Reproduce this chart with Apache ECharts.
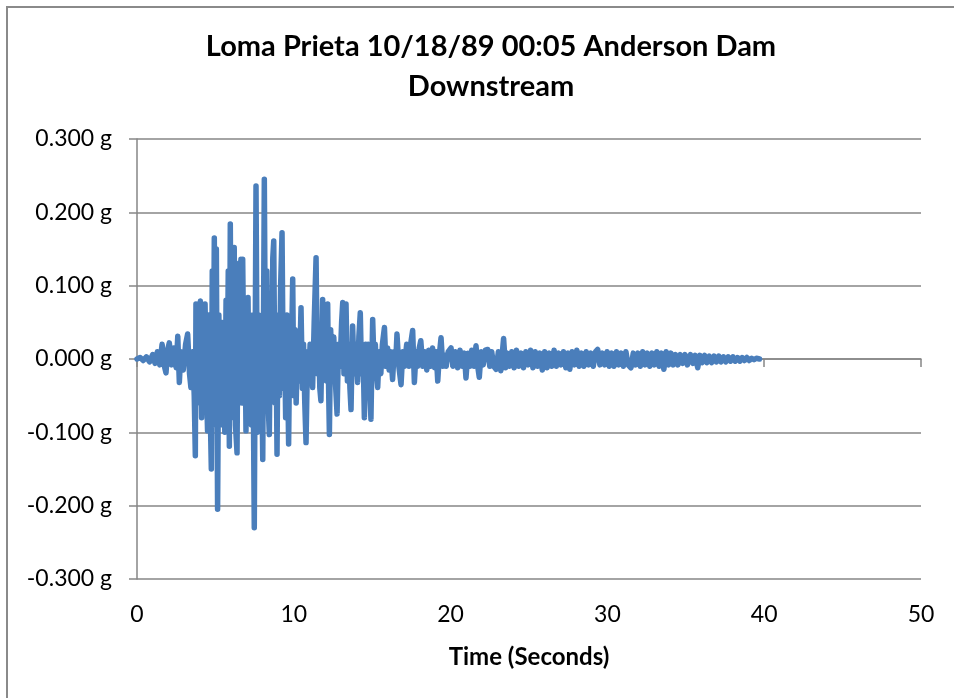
<!DOCTYPE html>
<html>
<head>
<meta charset="utf-8">
<script src="https://cdn.jsdelivr.net/npm/echarts@6/dist/echarts.min.js"></script>
<style>
html,body{margin:0;padding:0;background:#fff;}
#c{width:954px;height:698px;}
</style>
</head>
<body>
<div id="c"></div>
<script>
// Time (s) of each read-off turning point and the acceleration (g) there
const times = [
0,0.2,0.4,0.6,0.8,1.0,1.15,1.3,1.45,1.6,1.75,1.85,1.95,2.06,2.2,2.35,2.5,2.6,2.7,2.8,2.95,3.1,3.23,3.35,3.44,3.55,3.65,3.72,3.76,3.85,3.95,4.04,4.12,4.2,4.28,4.34,4.42,4.5,4.58,4.66,4.74,4.8,4.86,4.93,5.0,5.06,5.14,5.22,5.3,5.38,5.45,5.52,5.6,5.68,5.75,5.82,5.89,5.95,6.02,6.1,6.2,6.28,6.38,6.45,6.53,6.58,6.63,6.7,6.74,6.82,6.88,6.95,7.02,7.08,7.15,7.22,7.3,7.38,7.48,7.59,7.68,7.76,7.85,7.92,8.02,8.12,8.2,8.28,8.36,8.44,8.52,8.6,8.66,8.72,8.8,8.86,8.93,9.0,9.08,9.16,9.25,9.33,9.4,9.48,9.56,9.67,9.75,9.82,9.93,10.0,10.08,10.15,10.25,10.35,10.46,10.55,10.62,10.7,10.78,10.88,10.96,11.04,11.12,11.2,11.3,11.42,11.5,11.58,11.66,11.73,11.84,11.92,12.0,12.08,12.16,12.22,12.27,12.35,12.45,12.55,12.65,12.76,12.85,12.95,13.05,13.12,13.2,13.27,13.33,13.42,13.5,13.58,13.65,13.75,13.85,13.95,14.07,14.15,14.24,14.32,14.42,14.5,14.58,14.66,14.75,14.84,14.92,15.03,15.12,15.2,15.28,15.35,15.45,15.55,15.65,15.78,15.88,15.98,16.08,16.18,16.3,16.4,16.5,16.58,16.7,16.84,16.95,17.05,17.2,17.35,17.45,17.58,17.69,17.8,17.9,18.0,18.1,18.22,18.35,18.48,18.6,18.72,18.85,18.98,19.08,19.18,19.28,19.39,19.5,19.62,19.72,19.85,20.03,20.15,20.3,20.45,20.6,20.75,20.88,20.98,21.1,21.22,21.35,21.5,21.62,21.73,21.83,21.95,22.08,22.22,22.37,22.5,22.62,22.75,22.9,23.05,23.2,23.38,23.5,23.62,23.75,23.9,24.05,24.2,24.35,24.5,24.65,24.8,24.95,25.1,25.25,25.4,25.55,25.7,25.85,26.0,26.15,26.3,26.45,26.6,26.75,26.9,27.05,27.2,27.35,27.5,27.6,27.75,27.9,28.05,28.2,28.35,28.5,28.65,28.8,28.95,29.1,29.25,29.38,29.52,29.68,29.82,29.98,30.12,30.28,30.42,30.58,30.72,30.88,31.02,31.18,31.32,31.5,31.65,31.8,31.95,32.1,32.25,32.4,32.55,32.7,32.85,33.0,33.15,33.3,33.45,33.6,33.75,33.9,34.05,34.2,34.35,34.5,34.65,34.8,34.95,35.1,35.3,35.45,35.6,35.76,35.9,36.05,36.2,36.35,36.5,36.65,36.8,36.95,37.1,37.25,37.4,37.55,37.7,37.85,38.0,38.15,38.3,38.45,38.6,38.75,38.9,39.05,39.2,39.35,39.5,39.7
];
const accel = [
0,0.002,-0.002,0.003,-0.004,0.006,-0.006,0.01,-0.008,0.02,-0.01,-0.019,0.012,0.022,-0.008,0.015,-0.012,0.031,-0.032,0.01,-0.015,0.02,0.034,-0.02,-0.039,0.01,-0.05,-0.132,0.075,-0.06,0.05,0.079,-0.08,0.04,-0.05,0.075,-0.03,-0.098,0.06,-0.06,-0.15,0.12,-0.09,0.165,-0.08,0.15,-0.205,0.06,-0.09,0.05,-0.06,0.03,-0.1,0.08,-0.05,0.12,-0.119,0.184,-0.08,0.1,0.152,-0.09,-0.128,0.1,0.131,-0.04,0.136,-0.06,0.136,-0.02,0.07,-0.098,0.04,0.084,-0.06,0.05,-0.09,0.06,-0.23,0.236,-0.1,0.06,-0.09,0.05,-0.137,0.245,-0.05,0.12,-0.06,-0.103,0.07,-0.04,0.138,0.161,-0.06,0.05,-0.13,0.06,-0.05,0.1,0.172,-0.04,0.05,-0.08,0.06,-0.116,0.04,-0.03,0.109,-0.05,0.04,-0.06,0.03,-0.03,0.07,-0.04,0.02,-0.06,-0.114,0.01,-0.02,0.02,-0.01,-0.039,0.05,0.138,-0.02,0.03,-0.04,-0.057,0.081,-0.02,0.04,-0.03,0.075,-0.04,-0.103,0.04,-0.02,0.03,-0.03,-0.075,0.02,-0.01,0.05,0.077,-0.02,0.03,0.075,-0.03,0.02,-0.04,-0.069,0.045,-0.02,0.02,-0.032,0.03,0.063,-0.02,0.01,-0.08,0.02,-0.03,0.02,-0.04,-0.082,0.054,-0.01,0.02,-0.02,-0.039,0.01,-0.02,0.02,0.043,-0.01,0.015,-0.015,0.01,-0.028,0.01,-0.005,0.034,-0.01,-0.035,0.01,-0.01,0.02,-0.01,0.02,0.039,-0.032,0.01,-0.01,0.015,0.025,-0.01,0.01,-0.015,0.012,-0.01,0.015,-0.012,0.01,-0.03,0.005,0.029,-0.01,0.005,-0.01,0.01,0.015,-0.01,0.01,-0.012,0.012,-0.01,0.008,-0.026,0.008,-0.01,0.012,-0.01,0.018,-0.01,-0.025,0.01,-0.008,0.012,0.013,-0.01,0.01,-0.01,-0.014,0.01,-0.016,0.028,-0.012,0.008,-0.01,0.01,-0.012,0.012,-0.01,0.008,-0.012,0.01,-0.008,0.012,-0.012,0.01,-0.01,0.008,-0.015,0.01,-0.012,0.008,-0.01,0.012,-0.01,0.008,-0.008,0.01,-0.012,0.008,-0.014,0.01,-0.008,0.012,-0.01,0.008,-0.01,0.01,-0.008,0.008,-0.01,0.01,0.013,-0.008,0.008,-0.008,0.01,-0.01,0.008,-0.01,0.01,-0.008,0.008,-0.01,0.01,-0.008,-0.012,0.008,-0.008,0.008,-0.01,0.01,-0.008,0.008,-0.01,0.008,-0.008,0.01,-0.01,0.008,-0.014,0.01,-0.008,0.008,-0.008,0.006,-0.008,0.006,-0.006,0.006,-0.008,0.006,-0.006,0.005,-0.012,0.005,-0.005,0.005,-0.005,0.004,-0.005,0.004,-0.004,0.004,-0.004,0.003,-0.004,0.003,-0.003,0.003,-0.003,0.002,-0.003,0.002,-0.002,0.002,-0.002,0.001,-0.001,0.001,0
];
const titleLines = ['Loma Prieta 10/18/89 00:05 Anderson Dam', 'Downstream'];
const xAxisTitle = 'Time (Seconds)';

const FONT = 'Lato, "Noto Sans", sans-serif';
const GRID = '#868686';
const chart = echarts.init(document.getElementById('c'), null, {renderer: 'canvas'});
chart.setOption({
  animation: false,
  backgroundColor: '#ffffff',
  graphic: [{
    type: 'rect', shape: {x: 7, y: 7, width: 960, height: 700},
    style: {fill: 'none', stroke: '#8a8a8a', lineWidth: 2}, silent: true, z: -1
  }],
  title: {
    text: titleLines.join('\n'),
    left: 486, top: 22, textAlign: 'center',
    textStyle: {fontFamily: FONT, fontWeight: 'bold', fontSize: 29, lineHeight: 40, color: '#000'}
  },
  grid: {left: 137, right: 33, top: 139, bottom: 119, containLabel: false},
  xAxis: [{
    type: 'value', min: 0, max: 50, interval: 10,
    name: xAxisTitle, nameLocation: 'middle', nameGap: 66,
    nameTextStyle: {fontFamily: FONT, fontWeight: 'bold', fontSize: 24, color: '#000'},
    axisLine: {show: false, onZero: false},
    axisTick: {show: false},
    splitLine: {show: false},
    axisLabel: {fontFamily: FONT, fontSize: 23, color: '#000', margin: 24}
  }, {
    type: 'value', min: 0, max: 50, interval: 10, position: 'bottom',
    axisLine: {show: true, onZero: true, onZeroAxisIndex: 0, lineStyle: {color: GRID, width: 1.5}},
    axisTick: {show: true, length: 8, lineStyle: {color: GRID, width: 1.5}},
    axisLabel: {show: false},
    splitLine: {show: false}
  }],
  yAxis: {
    type: 'value', min: -0.3, max: 0.3, interval: 0.1,
    axisLine: {show: true, lineStyle: {color: GRID, width: 1.5}},
    axisTick: {show: true, length: 8, lineStyle: {color: GRID, width: 1.5}},
    splitLine: {show: true, lineStyle: {color: GRID, width: 1.5}},
    axisLabel: {
      fontFamily: FONT, fontSize: 23, color: '#000', margin: 25,
      formatter: v => (Math.abs(v) < 1e-9 ? 0 : v).toFixed(3) + ' g'
    }
  },
  series: [{
    type: 'line', xAxisIndex: 0,
    data: times.map((t, i) => [t, accel[i]]),
    showSymbol: false, symbol: 'none',
    lineStyle: {color: '#4A7EBB', width: 5.5, join: 'round', cap: 'round'},
    z: 3
  }]
});
</script>
</body>
</html>
